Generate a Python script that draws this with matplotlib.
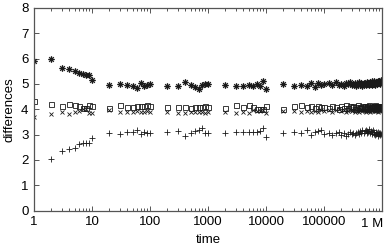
import numpy as np
import matplotlib
matplotlib.use('Agg')
import matplotlib.pyplot as plt
from matplotlib.path import Path
from matplotlib.ticker import FixedLocator, NullFormatter

plt.rcParams['font.family'] = ['Liberation Sans', 'DejaVu Sans']
plt.rcParams['font.size'] = 9.5

# sample times (one group per decade, the last one is dense)
time = [1, 2, 3, 4, 5, 6, 7, 8, 9, 10,
        20, 30, 40, 50, 60, 70, 80, 90, 100,
        200, 300, 400, 500, 600, 700, 800, 900, 1000,
        2000, 3000, 4000, 5000, 6000, 7000, 8000, 9000, 10000,
        20000, 30000, 40000, 50000, 60000, 70000, 80000, 90000,
        100000, 120000, 140000, 160000, 180000, 200000, 220000, 240000, 260000, 280000,
        300000, 320000, 340000, 360000, 380000, 400000, 420000, 440000, 460000, 480000,
        500000, 520000, 540000, 560000, 580000, 600000, 620000, 640000, 660000, 680000,
        700000, 720000, 740000, 760000, 780000, 800000, 820000, 840000, 860000, 880000,
        900000, 920000, 940000, 960000, 980000, 1000000]

star_vals = [5.90, 5.97, 5.64, 5.60, 5.52, 5.42, 5.38, 5.35, 5.35, 5.15,
             4.97, 4.98, 4.94, 4.93, 4.82, 5.02, 4.93, 4.97, 4.98,
             4.93, 4.91, 5.06, 4.95, 4.87, 4.80, 4.97, 5.00, 4.98,
             4.96, 4.90, 4.92, 4.95, 4.93, 4.98, 4.92, 5.11, 4.80,
             5.00, 4.93, 4.96, 4.90, 5.02, 4.88, 5.05, 4.96,
             4.99, 5.03, 4.94, 5.06, 4.97, 5.01, 4.92, 5.04, 4.98, 5.08,
             4.95, 5.00, 5.05, 4.93, 4.99, 5.07, 4.96, 5.02, 4.90, 5.04,
             5.00, 4.95, 5.09, 4.98, 5.03, 4.94, 5.06, 5.01, 4.97, 5.10,
             4.99, 5.05, 5.12, 4.96, 5.04, 5.08, 5.00, 5.13, 5.02, 5.07,
             5.11, 4.98, 5.06, 5.14, 5.03, 5.09]

square_vals = [4.32, 4.22, 4.13, 4.20, 4.18, 4.13, 4.05, 4.05, 4.18, 4.13,
               4.06, 4.18, 4.10, 4.10, 4.12, 4.13, 4.13, 4.15, 4.13,
               4.10, 4.08, 4.08, 4.05, 4.07, 4.08, 4.10, 4.12, 4.10,
               4.06, 4.16, 4.10, 4.16, 4.10, 4.02, 4.02, 4.02, 4.12,
               4.02, 4.12, 4.16, 4.10, 4.14, 4.05, 4.12, 4.08,
               4.10, 4.05, 4.14, 4.08, 4.02, 4.12, 4.06, 4.16, 4.04, 4.11,
               4.07, 4.13, 4.01, 4.09, 4.15, 4.05, 4.10, 4.03, 4.12, 4.08,
               4.14, 4.06, 4.11, 4.02, 4.09, 4.16, 4.04, 4.10, 4.07, 4.13,
               4.05, 4.11, 4.08, 4.15, 4.03, 4.09, 4.12, 4.06, 4.14, 4.08,
               4.10, 4.04, 4.13, 4.07, 4.11, 4.09]

cross_vals = [3.70, 3.81, 3.88, 3.81, 3.88, 3.93, 4.00, 4.02, 3.86, 3.86,
              3.97, 3.89, 3.90, 3.90, 3.94, 3.91, 3.90, 3.94, 3.88,
              3.90, 3.87, 3.86, 3.90, 3.90, 3.91, 3.90, 3.87, 3.90,
              3.90, 3.87, 3.90, 3.87, 3.96, 3.93, 3.93, 3.96, 3.87,
              3.93, 3.92, 3.89, 3.95, 3.88, 3.94, 3.90, 3.96,
              3.94, 3.98, 3.90, 3.96, 4.00, 3.92, 3.97, 3.89, 3.95, 4.01,
              3.93, 3.97, 3.91, 3.99, 3.94, 3.88, 3.96, 4.02, 3.92, 3.98,
              3.95, 3.90, 3.99, 3.93, 4.03, 3.96, 3.91, 3.97, 4.00, 3.94,
              3.98, 3.92, 4.01, 3.95, 3.99, 3.93, 4.02, 3.96, 3.90, 3.98,
              4.00, 3.94, 3.97, 4.03, 3.95, 3.99]

plus_vals = [np.nan, 2.04, 2.37, 2.41, 2.48, 2.61, 2.65, 2.67, 2.67, 2.86,
             3.05, 3.02, 3.10, 3.09, 3.20, 3.02, 3.10, 3.05, 3.08,
             3.11, 3.14, 2.95, 3.08, 3.14, 3.20, 3.24, 3.05, 3.05,
             3.08, 3.12, 3.12, 3.10, 3.10, 3.09, 3.14, 3.24, 2.91,
             3.05, 3.09, 3.08, 3.18, 3.00, 3.12, 3.16, 3.17,
             3.02, 3.08, 2.98, 3.05, 3.10, 3.00, 3.06, 2.96, 3.04, 3.09,
             3.01, 3.07, 2.97, 3.05, 3.12, 3.03, 3.15, 3.06, 3.18, 3.08,
             3.13, 3.20, 3.05, 3.16, 3.10, 3.22, 3.07, 3.14, 3.02, 3.11,
             3.17, 3.04, 3.09, 2.98, 3.12, 3.03, 3.07, 2.95, 3.10, 3.01,
             3.06, 2.97, 3.08, 3.02, 3.05, 2.99]

xtick_vals = [1, 10, 100, 1000, 10000, 100000, 1000000]
xtick_labels = ['1', '10', '100', '1000', '10000', '100000', '']
last_label = '1 M'
ytick_vals = [0, 1, 2, 3, 4, 5, 6, 7, 8]

# gnuplot style asterisk: plus and cross overlaid
asterisk = Path([(-1, 0), (1, 0), (0, -1), (0, 1),
                 (-0.7, -0.7), (0.7, 0.7), (-0.7, 0.7), (0.7, -0.7)],
                [Path.MOVETO, Path.LINETO] * 4)

fig = plt.figure(figsize=(3.88, 2.5), dpi=100)
ax = fig.add_axes([0.0876, 0.158, 0.897, 0.81])

ink = '#1a1a1a'
ax.plot(time, star_vals, ls='none', marker=asterisk, ms=4.8, mec=ink, mfc='none', mew=0.9)
ax.plot(time, square_vals, ls='none', marker='s', ms=3.6, mec=ink, mfc='none', mew=0.6)
ax.plot(time, cross_vals, ls='none', marker='x', ms=3.4, mec=ink, mew=0.6)
ax.plot(time, plus_vals, ls='none', marker='+', ms=4.0, mec=ink, mew=0.6)

ax.set_xscale('log')
ax.set_xlim(1, 1000000)
ax.set_ylim(0, 8)
ax.set_xticks(xtick_vals)
ax.set_xticklabels(xtick_labels)
ax.xaxis.set_minor_locator(FixedLocator([m * 10 ** e for e in range(6) for m in range(2, 10)]))
ax.xaxis.set_minor_formatter(NullFormatter())
ax.set_yticks(ytick_vals)

# last label sits a bit left of its tick, as in the original
ax.annotate(last_label, xy=(xtick_vals[-1], 0), xycoords=('data', 'axes fraction'),
            xytext=(-10, -7.5), textcoords='offset pixels', ha='center', va='top')

ax.set_xlabel('time', labelpad=4)
ax.set_ylabel('differences', labelpad=4)

for s in ax.spines.values():
    s.set_color('#555555')
    s.set_linewidth(0.9)
ax.tick_params(which='both', direction='in', top=True, right=True, color='#555555', width=0.7)
ax.tick_params(which='major', length=3.5, pad=4)
ax.tick_params(which='minor', length=2)

fig.savefig('out.png', dpi=100)
